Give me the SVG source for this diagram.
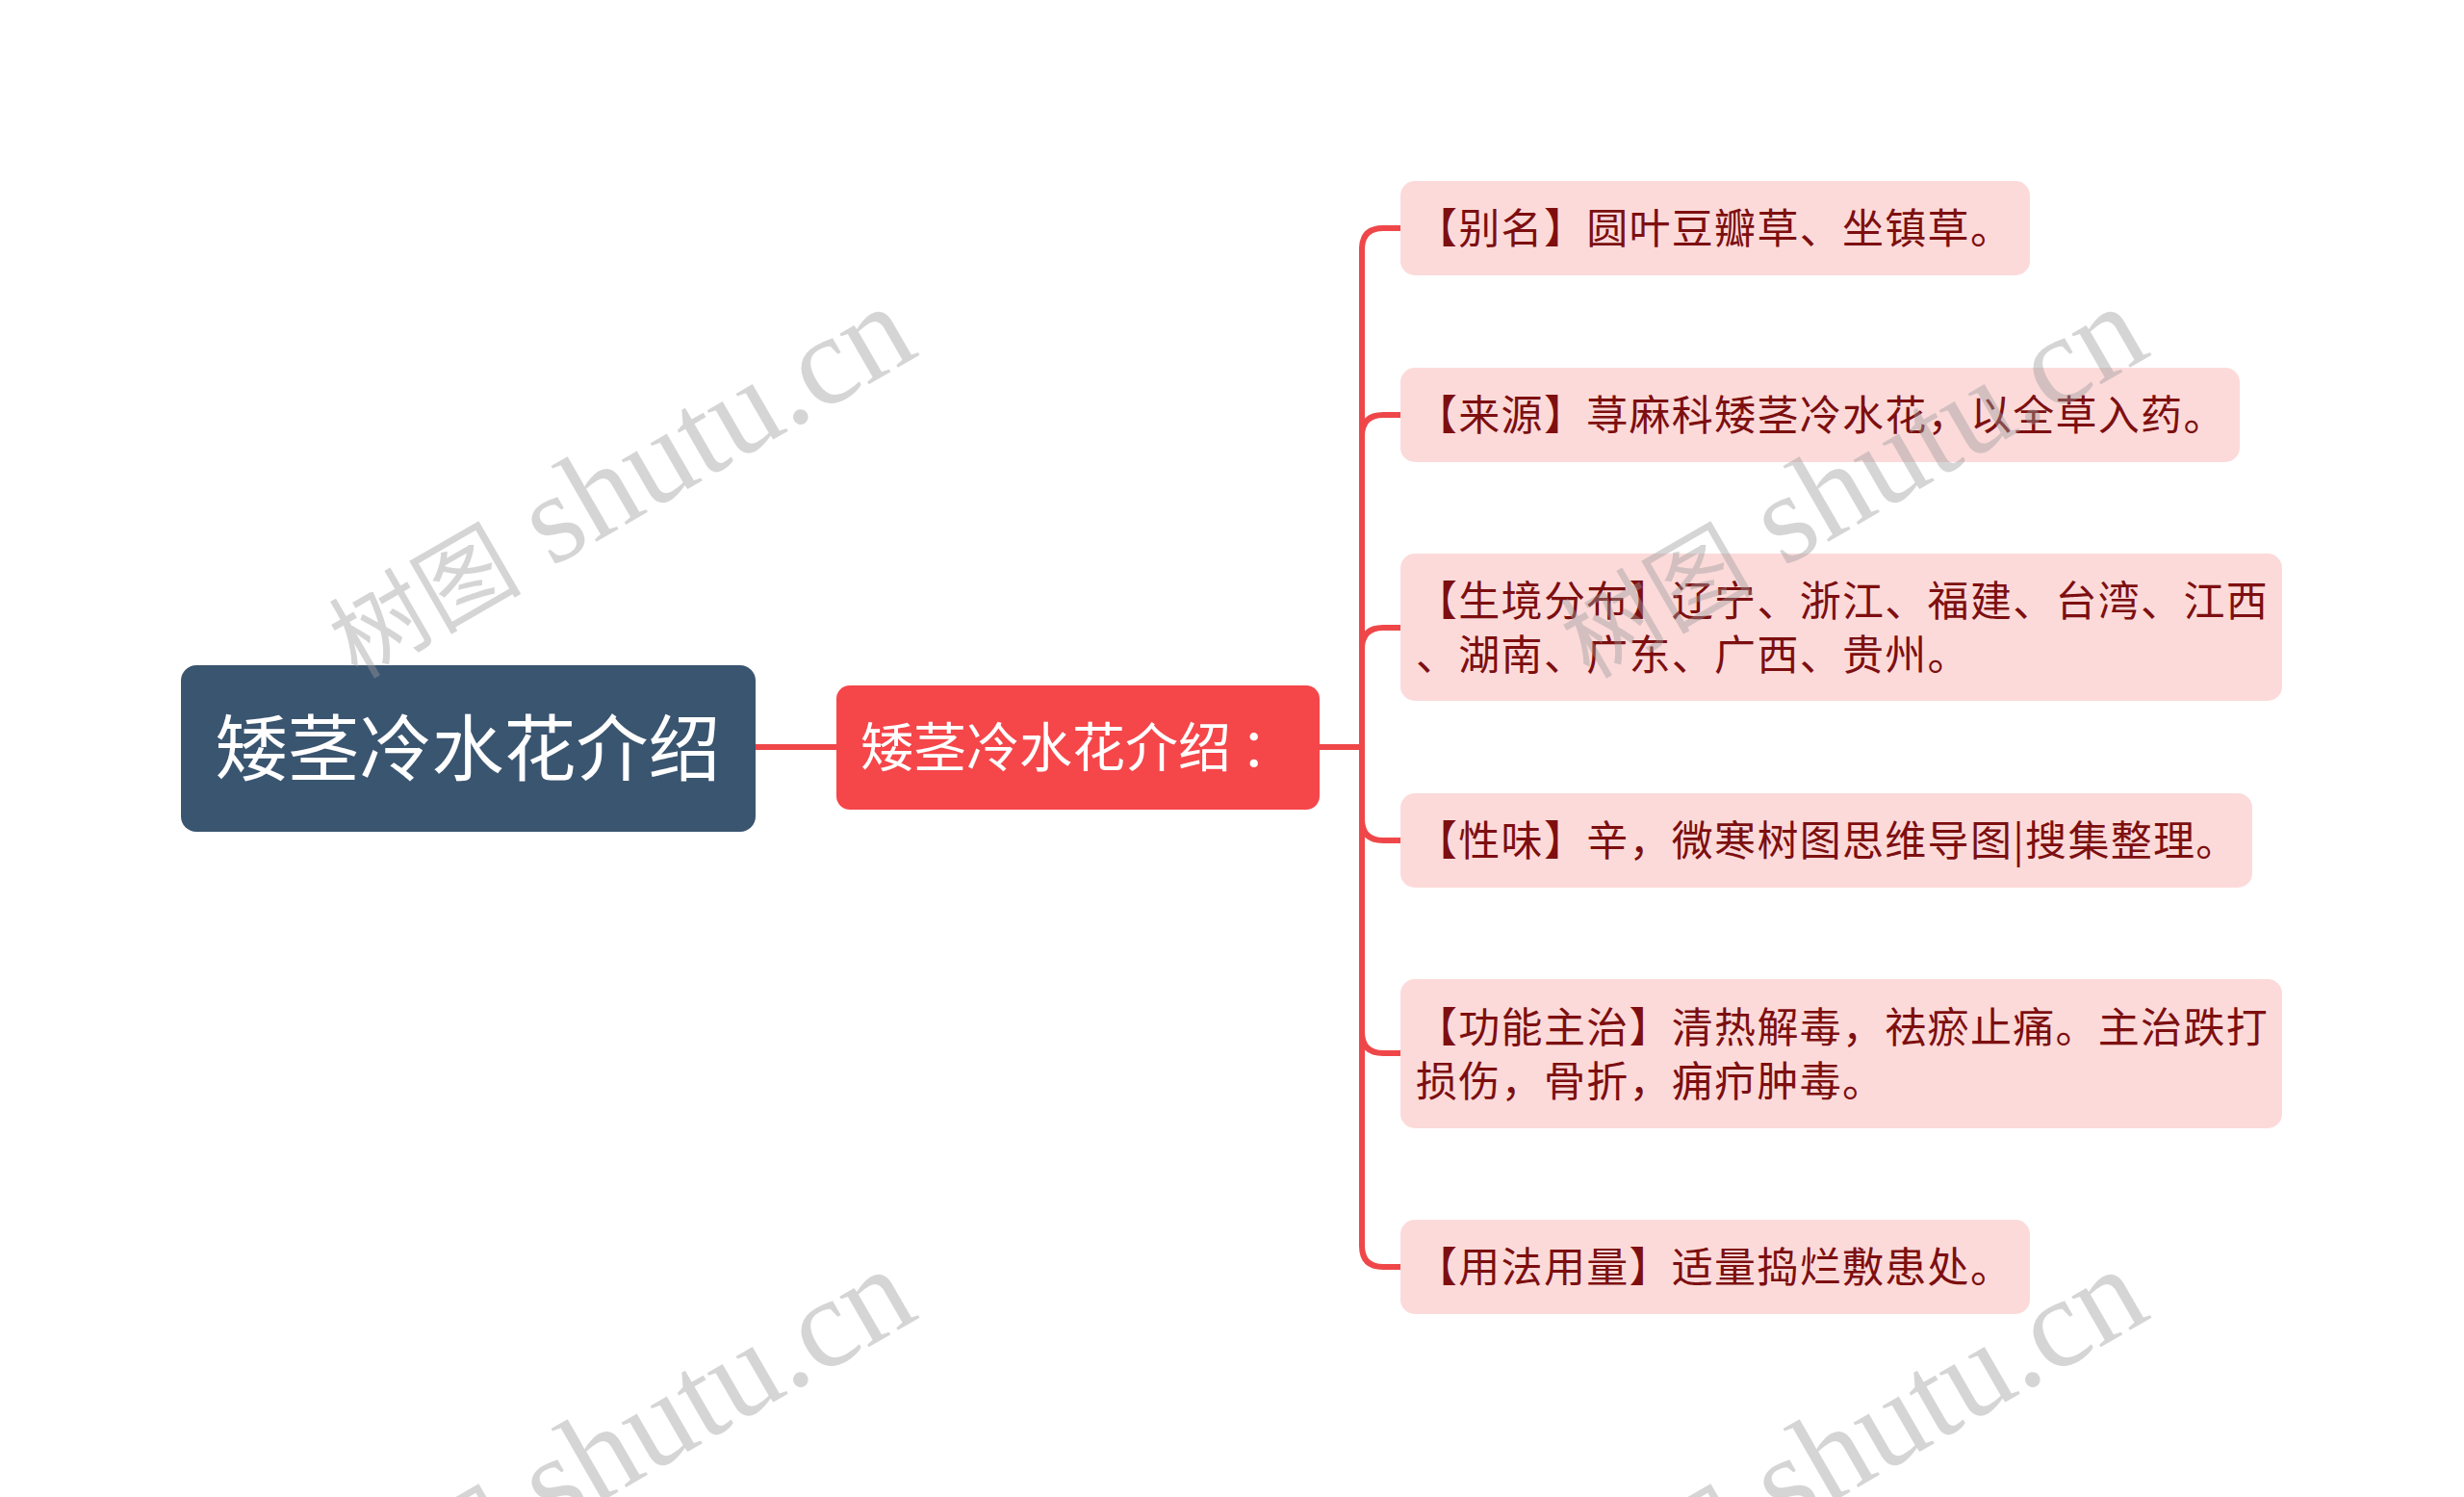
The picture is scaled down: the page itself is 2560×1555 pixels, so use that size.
<svg xmlns="http://www.w3.org/2000/svg" width="2560" height="1555" viewBox="0 0 2560 1555">
<style>
.conn{fill:none;stroke:#ef4749;stroke-width:6;stroke-linecap:round;stroke-linejoin:round}
.leaf rect{fill:#fcdada}
.leaf text{font-family:"Noto Sans CJK SC","Noto Sans",sans-serif;font-size:43px;letter-spacing:1.3px;fill:#7d0f10}
.wm{font-family:"Liberation Serif","Noto Sans CJK SC",serif;font-size:132px;fill:#9a9a9a;fill-opacity:0.42}
.wm .cjk{font-size:100px}
</style>
<rect x="0" y="0" width="2560" height="1555" fill="#ffffff"/>
<g id="connectors">
<path class="conn" d="M785,776 H869"/>
<path class="conn" d="M1371,776 H1415 V259 Q1415,237 1437,237 H1455"/>
<path class="conn" d="M1371,776 H1415 V453 Q1415,431 1437,431 H1455"/>
<path class="conn" d="M1371,776 H1415 V674 Q1415,652 1437,652 H1455"/>
<path class="conn" d="M1371,776 H1415 V851 Q1415,873 1437,873 H1455"/>
<path class="conn" d="M1371,776 H1415 V1072 Q1415,1094 1437,1094 H1455"/>
<path class="conn" d="M1371,776 H1415 V1294 Q1415,1316 1437,1316 H1455"/>
</g>
<g id="root">
<rect x="188" y="691" width="597" height="173" rx="16" fill="#3a5570"/>
<text x="486" y="805" text-anchor="middle" font-family="Noto Sans CJK SC,sans-serif" font-size="75" fill="#ffffff">矮茎冷水花介绍</text>
</g>
<g id="main">
<rect x="869" y="712" width="502" height="129" rx="14" fill="#f5464a"/>
<text x="894" y="796" font-family="Noto Sans CJK SC,sans-serif" font-size="55" fill="#ffffff">矮茎冷水花介绍<tspan dx="10">：</tspan></text>
</g>
<g id="leaf1" class="leaf">
<rect x="1455" y="188" width="654" height="98" rx="15"/>
<text x="1471" y="253">【别名】圆叶豆瓣草、坐镇草。</text>
</g>
<g id="leaf2" class="leaf">
<rect x="1455" y="382" width="872" height="98" rx="15"/>
<text x="1471" y="447">【来源】荨麻科矮茎冷水花，以全草入药。</text>
</g>
<g id="leaf3" class="leaf">
<rect x="1455" y="575" width="916" height="153" rx="15"/>
<text x="1471" y="640">【生境分布】辽宁、浙江、福建、台湾、江西</text>
<text x="1471" y="696">、湖南、广东、广西、贵州。</text>
</g>
<g id="leaf4" class="leaf">
<rect x="1455" y="824" width="885" height="98" rx="15"/>
<text x="1471" y="889">【性味】辛，微寒树图思维导图|搜集整理。</text>
</g>
<g id="leaf5" class="leaf">
<rect x="1455" y="1017" width="916" height="155" rx="15"/>
<text x="1471" y="1083">【功能主治】清热解毒，祛瘀止痛。主治跌打</text>
<text x="1471" y="1139">损伤，骨折，痈疖肿毒。</text>
</g>
<g id="leaf6" class="leaf">
<rect x="1455" y="1267" width="654" height="98" rx="15"/>
<text x="1471" y="1332">【用法用量】适量捣烂敷患处。</text>
</g>
<g id="watermarks">
<text class="wm" transform="translate(662,522) rotate(-30)" x="-344" y="14"><tspan class="cjk">树图</tspan> shutu.cn</text>
<text class="wm" transform="translate(1942,522) rotate(-30)" x="-344" y="14"><tspan class="cjk">树图</tspan> shutu.cn</text>
<text class="wm" transform="translate(662,1522) rotate(-30)" x="-344" y="14"><tspan class="cjk">树图</tspan> shutu.cn</text>
<text class="wm" transform="translate(1942,1522) rotate(-30)" x="-344" y="14"><tspan class="cjk">树图</tspan> shutu.cn</text>
</g>
</svg>
